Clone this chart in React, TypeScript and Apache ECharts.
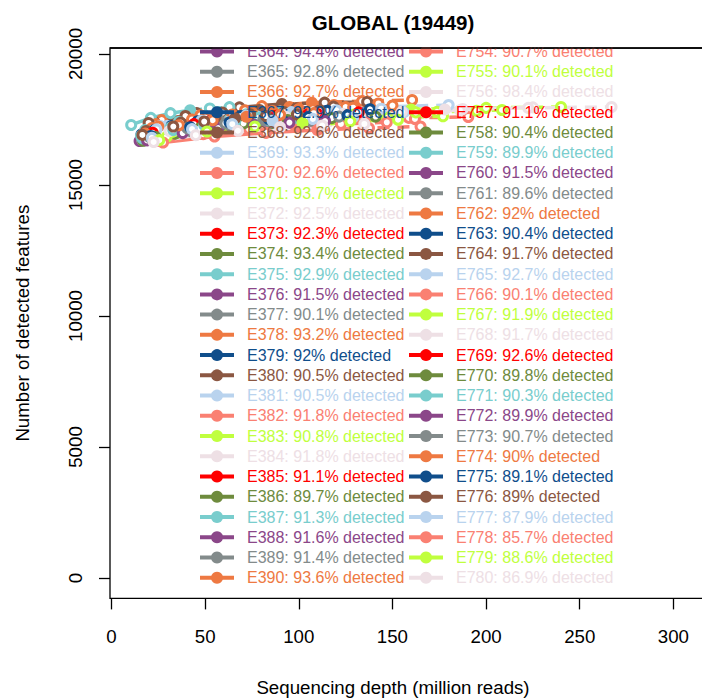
import React, { useEffect, useRef } from "react";
import * as echarts from "echarts";

const chartTitle = "GLOBAL (19449)";
const xAxisTitle = "Sequencing depth (million reads)";
const yAxisTitle = "Number of detected features";

const sampleIds = [
  "E364", "E365", "E366", "E367", "E368", "E369", "E370", "E371", "E372", "E373",
  "E374", "E375", "E376", "E377", "E378", "E379", "E380", "E381", "E382", "E383",
  "E384", "E385", "E386", "E387", "E388", "E389", "E390",
  "E754", "E755", "E756", "E757", "E758", "E759", "E760", "E761", "E762", "E763",
  "E764", "E765", "E766", "E767", "E768", "E769", "E770", "E771", "E772", "E773",
  "E774", "E775", "E776", "E777", "E778", "E779", "E780",
];

const detectedPct = [
  94.4, 92.8, 92.7, 92.9, 92.6, 93.3, 92.6, 93.7, 92.5, 92.3,
  93.4, 92.9, 91.5, 90.1, 93.2, 92, 90.5, 90.5, 91.8, 90.8,
  91.8, 91.1, 89.7, 91.3, 91.6, 91.4, 93.6,
  90.7, 90.1, 98.4, 91.1, 90.4, 89.9, 91.5, 89.6, 92, 90.4,
  91.7, 92.7, 90.1, 91.9, 91.7, 92.6, 89.8, 90.3, 89.9, 90.7,
  90, 89.1, 89, 87.9, 85.7, 88.6, 86.9,
];

// sequencing depths (million reads); the 4th value is the real depth of the sample
const depths: number[][] = [
  [22, 44, 66, 88, 110, 132],
  [17.5, 35, 52.5, 70, 87.5, 105],
  [26.8, 53.5, 80.3, 107, 133.8, 160.5],
  [20, 40, 60, 80, 100, 120],
  [22.8, 45.5, 68.3, 91, 113.8, 136.5],
  [30, 60, 90, 120, 150, 180],
  [31.8, 63.5, 95.3, 127, 158.8, 190.5],
  [40, 80, 120, 160, 200, 240],
  [37.5, 75, 112.5, 150, 187.5, 225],
  [18.3, 36.5, 54.8, 73, 91.3, 109.5],
  [21, 42, 63, 84, 105, 126],
  [10.5, 21, 31.5, 42, 52.5, 63],
  [15, 30, 45, 60, 75, 90],
  [16.5, 33, 49.5, 66, 82.5, 99],
  [23.8, 47.5, 71.3, 95, 118.8, 142.5],
  [16, 32, 48, 64, 80, 96],
  [19.8, 39.5, 59.3, 79, 98.8, 118.5],
  [26, 52, 78, 104, 130, 156],
  [27, 54, 81, 108, 135, 162],
  [34.8, 69.5, 104.3, 139, 173.8, 208.5],
  [28, 56, 84, 112, 140, 168],
  [19, 38, 57, 76, 95, 114],
  [17, 34, 51, 68, 85, 102],
  [18, 36, 54, 72, 90, 108],
  [20.5, 41, 61.5, 82, 102.5, 123],
  [19, 38, 57, 76, 95, 114],
  [25, 50, 75, 100, 125, 150],
  [22.5, 45, 67.5, 90, 112.5, 135],
  [29.5, 59, 88.5, 118, 147.5, 177],
  [44.5, 89, 133.5, 178, 222.5, 267],
  [17.5, 35, 52.5, 70, 87.5, 105],
  [19.5, 39, 58.5, 78, 97.5, 117],
  [15.8, 31.5, 47.3, 63, 78.8, 94.5],
  [17.8, 35.5, 53.3, 71, 88.8, 106.5],
  [21.3, 42.5, 63.8, 85, 106.3, 127.5],
  [21.5, 43, 64.5, 86, 107.5, 129],
  [23, 46, 69, 92, 115, 138],
  [18.5, 37, 55.5, 74, 92.5, 111],
  [24, 48, 72, 96, 120, 144],
  [24.5, 49, 73.5, 98, 122.5, 147],
  [32.5, 65, 97.5, 130, 162.5, 195],
  [31, 62, 93, 124, 155, 186],
  [22, 44, 66, 88, 110, 132],
  [23.5, 47, 70.5, 94, 117.5, 141],
  [16.5, 33, 49.5, 66, 82.5, 99],
  [19, 38, 57, 76, 95, 114],
  [20.3, 40.5, 60.8, 81, 101.3, 121.5],
  [18, 36, 54, 72, 90, 108],
  [21, 42, 63, 84, 105, 126],
  [16.5, 33, 49.5, 66, 82.5, 99],
  [21.5, 43, 64.5, 86, 107.5, 129],
  [27.5, 55, 82.5, 110, 137.5, 165],
  [25.5, 51, 76.5, 102, 127.5, 153],
  [22.5, 45, 67.5, 90, 112.5, 135],
];

// number of detected features at each depth
const features: number[][] = [
  [17080, 17420, 17620, 17750, 17830, 17890],
  [16860, 17200, 17390, 17520, 17600, 17665],
  [17480, 17820, 18010, 18140, 18200, 18244],
  [17020, 17350, 17540, 17670, 17750, 17810],
  [17400, 17740, 17960, 18090, 18140, 18170],
  [17260, 17600, 17800, 17930, 17990, 18050],
  [16870, 17190, 17390, 17520, 17560, 17595],
  [17200, 17540, 17750, 17880, 17940, 17977],
  [17150, 17490, 17690, 17820, 17900, 17960],
  [16740, 17070, 17270, 17400, 17480, 17540],
  [16950, 17280, 17470, 17600, 17680, 17740],
  [17290, 17560, 17740, 17850, 17920, 17970],
  [16680, 17030, 17230, 17366, 17450, 17510],
  [16700, 16980, 17170, 17300, 17380, 17440],
  [17320, 17660, 17850, 17980, 18050, 18110],
  [16930, 17250, 17440, 17560, 17640, 17700],
  [17366, 17630, 17760, 17860, 17930, 17990],
  [17250, 17500, 17610, 17680, 17730, 17770],
  [16755, 17080, 17280, 17400, 17470, 17520],
  [16985, 17360, 17570, 17700, 17790, 17860],
  [16960, 17290, 17490, 17620, 17700, 17760],
  [16850, 17180, 17380, 17500, 17580, 17640],
  [16690, 16960, 17150, 17280, 17350, 17410],
  [17100, 17410, 17590, 17700, 17770, 17830],
  [16790, 17120, 17320, 17450, 17530, 17590],
  [16980, 17300, 17490, 17620, 17690, 17750],
  [17230, 17570, 17770, 17900, 17970, 18030],
  [16700, 17010, 17200, 17330, 17400, 17460],
  [16840, 17170, 17370, 17500, 17570, 17620],
  [17210, 17560, 17760, 17880, 17940, 17977],
  [16900, 17240, 17430, 17560, 17640, 17700],
  [16770, 17100, 17290, 17420, 17500, 17560],
  [16870, 17190, 17380, 17500, 17570, 17630],
  [16910, 17240, 17440, 17560, 17640, 17700],
  [16720, 17050, 17250, 17380, 17450, 17510],
  [17170, 17500, 17690, 17820, 17890, 17950],
  [17100, 17430, 17630, 17760, 17830, 17890],
  [17060, 17380, 17570, 17700, 17770, 17830],
  [17120, 17450, 17650, 17780, 17850, 17910],
  [16690, 16940, 17130, 17260, 17330, 17390],
  [17030, 17370, 17570, 17700, 17770, 17830],
  [17060, 17390, 17590, 17720, 17790, 17850],
  [16990, 17320, 17510, 17640, 17710, 17770],
  [16830, 17160, 17350, 17480, 17550, 17610],
  [16780, 17100, 17290, 17420, 17500, 17560],
  [16700, 16980, 17170, 17300, 17380, 17440],
  [16830, 17160, 17350, 17480, 17550, 17610],
  [16960, 17280, 17470, 17600, 17680, 17740],
  [16870, 17200, 17390, 17520, 17590, 17650],
  [16910, 17230, 17420, 17550, 17630, 17690],
  [16800, 17130, 17320, 17450, 17520, 17580],
  [16620, 16850, 16990, 17100, 17170, 17230],
  [16710, 17040, 17230, 17360, 17430, 17490],
  [16640, 16900, 17070, 17200, 17270, 17330],
];

const realIndex = 3;

const xTicks = [0, 50, 100, 150, 200, 250, 300];
const yTicks = [0, 5000, 10000, 15000, 20000];

const palette = [
  "#FF0000", "#6E8B3D", "#79CDCD", "#8B4789", "#838B8B", "#EE7942",
  "#104E8B", "#8B5742", "#B9D3EE", "#FA8072", "#C0FF3E", "#EEE0E5",
];

const FONT = "Liberation Sans, Arial, Helvetica, sans-serif";
const colorOf = (i: number) => palette[(i < 27 ? i + 3 : i + 6) % 12];
const labelOf = (i: number) => `${sampleIds[i]}: ${detectedPct[i]}% detected`;

function buildOption() {
  const series: any[] = [];
  sampleIds.forEach((_, i) => {
    const c = colorOf(i);
    const pts = depths[i].map((d, k) => [d, features[i][k]]);
    series.push({
      type: "line",
      name: labelOf(i),
      data: pts.slice(0, realIndex + 1).map((p, k) =>
        k === realIndex
          ? { value: p, symbolSize: 12, itemStyle: { color: c, borderWidth: 0 } }
          : { value: p }
      ),
      symbol: "circle",
      symbolSize: 9,
      itemStyle: { color: "#fff", borderColor: c, borderWidth: 3 },
      lineStyle: { color: c, width: 3.5 },
      silent: true,
      z: 2,
    });
    series.push({
      type: "line",
      name: `${sampleIds[i]} (estimated)`,
      data: pts.slice(realIndex).map((p, k) =>
        k === 0 ? { value: p, symbol: "none" } : { value: p }
      ),
      symbol: "circle",
      symbolSize: 9,
      itemStyle: { color: "#fff", borderColor: c, borderWidth: 3 },
      lineStyle: { color: c, width: 3.5, type: [12, 8] },
      silent: true,
      z: 2,
    });
  });

  const legendItems = (from: number, to: number) =>
    sampleIds.slice(from, to).map((_, k) => {
      const i = from + k;
      const c = colorOf(i);
      return {
        name: labelOf(i),
        itemStyle: { color: c, borderWidth: 0 },
        lineStyle: { color: c, width: 4 },
        textStyle: { color: c },
      };
    });

  const legendBase = {
    orient: "vertical",
    top: 43.5,
    padding: 0,
    itemWidth: 34,
    itemHeight: 15,
    itemGap: 4.24,
    selectedMode: false,
    z: 4,
    textStyle: {
      fontFamily: FONT,
      fontSize: 16,
      lineHeight: 16,
      padding: [0, 0, 0, 8],
    },
  };

  return {
    animation: false,
    backgroundColor: "#fff",
    textStyle: { fontFamily: FONT },
    title: {
      text: chartTitle,
      left: 393,
      top: 11.5,
      padding: 0,
      textAlign: "center",
      textStyle: { fontFamily: FONT, fontSize: 20.5, fontWeight: "bold", color: "#000" },
    },
    grid: {
      left: 110,
      top: 48,
      right: -18,
      bottom: 101.6,
      show: true,
      borderColor: "#000",
      borderWidth: 1.3,
      backgroundColor: "transparent",
      containLabel: false,
      outerBoundsMode: "none",
    },
    xAxis: {
      type: "value",
      min: -0.8,
      max: 324.9,
      name: xAxisTitle,
      nameLocation: "middle",
      nameGap: 80,
      nameTextStyle: {
        fontFamily: FONT,
        fontSize: 18.7,
        color: "#000",
        padding: [0, 44, 0, 0],
      },
      splitLine: { show: false },
      axisLine: { show: false, onZero: false },
      axisTick: {
        show: true,
        inside: false,
        length: 11,
        customValues: xTicks,
        lineStyle: { color: "#000", width: 1.3 },
      },
      axisLabel: {
        customValues: xTicks,
        margin: 29,
        fontFamily: FONT,
        fontSize: 18.7,
        color: "#000",
        formatter: (v: number) => String(v),
      },
    },
    yAxis: {
      type: "value",
      min: -778,
      max: 20227,
      name: yAxisTitle,
      nameLocation: "middle",
      nameRotate: 90,
      nameGap: 78.5,
      nameTextStyle: { fontFamily: FONT, fontSize: 18.7, color: "#000" },
      splitLine: { show: false },
      axisLine: { show: false, onZero: false },
      axisTick: {
        show: true,
        inside: false,
        length: 11,
        customValues: yTicks,
        lineStyle: { color: "#000", width: 1.3 },
      },
      axisLabel: {
        customValues: yTicks,
        rotate: 90,
        margin: 25.5,
        fontFamily: FONT,
        fontSize: 18.7,
        color: "#000",
        formatter: (v: number) => String(v),
      },
    },
    legend: [
      { ...legendBase, left: 198, data: legendItems(0, 27) },
      { ...legendBase, left: 407, data: legendItems(27, 54) },
    ],
    graphic: [
      {
        type: "rect",
        z: 5,
        silent: true,
        shape: { x: 180, y: 0, width: 500, height: 47.3 },
        style: { fill: "#fff" },
      },
      {
        type: "line",
        z: 5,
        silent: true,
        shape: { x1: 110, y1: 48, x2: 702, y2: 48 },
        style: { stroke: "#000", lineWidth: 1.3 },
      },
    ],
    series,
  };
}

export default function App() {
  const ref = useRef<HTMLDivElement>(null);
  useEffect(() => {
    if (!ref.current) return;
    const chart = echarts.init(ref.current, undefined, { renderer: "svg" });
    chart.setOption(buildOption() as any);
    return () => chart.dispose();
  }, []);
  return (
    <div
      ref={ref}
      style={{ position: "absolute", left: 0, top: 0, width: 702, height: 700 }}
    />
  );
}
